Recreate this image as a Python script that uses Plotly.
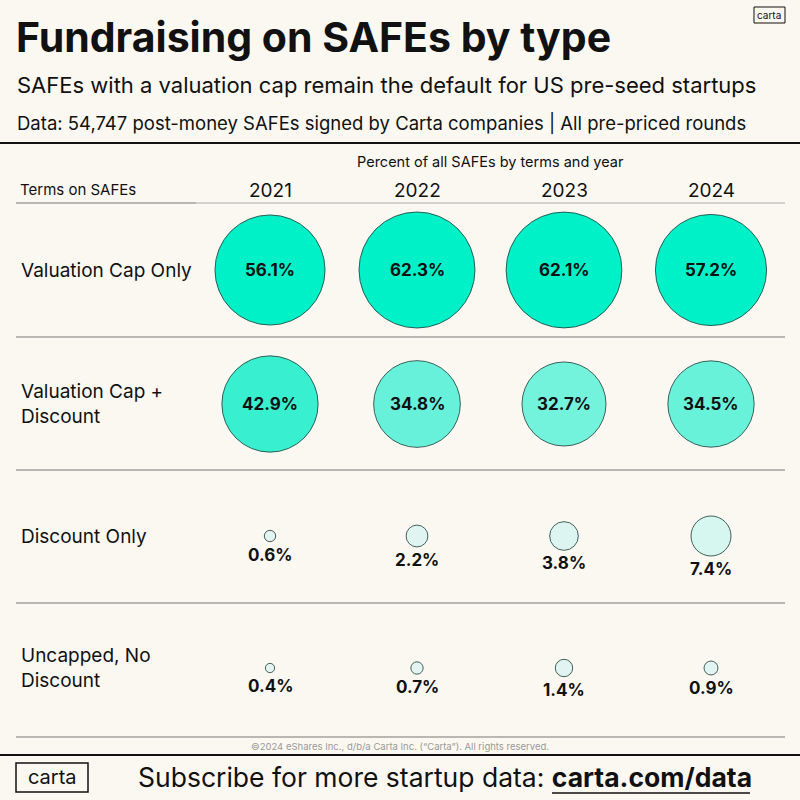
import numpy as np
import plotly.graph_objects as go

years = ["2021", "2022", "2023", "2024"]
terms = ["Valuation Cap Only", "Valuation Cap +<br>Discount", "Discount Only", "Uncapped, No<br>Discount"]
pct = [
    [56.1, 62.3, 62.1, 57.2],
    [42.9, 34.8, 32.7, 34.5],
    [0.6, 2.2, 3.8, 7.4],
    [0.4, 0.7, 1.4, 0.9],
]

FONT = "Inter"
BG = "#fbf8f1"
col_x = [270, 417, 564, 711]
row_y = [270, 404, 536, 668]
inside = [True, True, False, False]

fig = go.Figure()
for r, vals in enumerate(pct):
    v = np.array(vals)
    d = 14.7 * np.sqrt(v)
    fig.add_trace(go.Scatter(
        x=col_x, y=[row_y[r]] * 4, mode="markers",
        marker=dict(size=d, sizemode="diameter", color=v, opacity=1,
                    colorscale=[[0, "#e4f4f1"], [0.15, "#d4f6f0"], [0.6, "#72f2dc"],
                                [0.78, "#38efcf"], [1, "#00f0c8"]],
                    cmin=0, cmax=55, line=dict(color="#1b3b36", width=0.8)),
        hoverinfo="skip", showlegend=False))
    for i, val in enumerate(vals):
        y = row_y[r] if inside[r] else row_y[r] + d[i] / 2 + 13
        fig.add_annotation(x=col_x[i], y=y, text=f"<b>{val}%</b>", showarrow=False,
                           font=dict(family=FONT, size=17, color="#111"))
    fig.add_annotation(x=19, y=row_y[r], text=terms[r], showarrow=False,
                       xanchor="left", align="left", font=dict(family=FONT, size=19, color="#111"))

for i, yr in enumerate(years):
    fig.add_annotation(x=col_x[i], y=190, text=yr, showarrow=False,
                       font=dict(family=FONT, size=19, color="#111"))

texts = [
    (14, 37, "<b>Fundraising on SAFEs by type</b>", 41, "left"),
    (15, 85, "SAFEs with a valuation cap remain the default for US pre-seed startups", 22, "left"),
    (15, 123, "Data: 54,747 post-money SAFEs signed by Carta companies | All pre-priced rounds", 18.5, "left"),
    (490, 161, "Percent of all SAFEs by terms and year", 14.5, "center"),
    (18, 189, "Terms on SAFEs", 15, "left"),
    (400, 746, "©2024 eShares Inc., d/b/a Carta Inc. (“Carta”). All rights reserved.", 9.5, "center"),
    (136, 777, "Subscribe for more startup data: <b>carta.com/data</b>", 26.5, "left"),
    (52, 777, "carta", 20, "center"),
    (769, 15, "carta", 10, "center"),
]
for x, y, t, s, anc in texts:
    fig.add_annotation(x=x, y=y, text=t, showarrow=False, xanchor=anc,
                       font=dict(family=FONT, size=s, color="#999" if s < 10 else "#111"))

shapes = [
    dict(type="line", x0=0, x1=800, y0=143, y1=143, line=dict(color="#111", width=2)),
    dict(type="line", x0=16, x1=196, y0=203, y1=203, line=dict(color="#777", width=1.2)),
    dict(type="line", x0=196, x1=785, y0=203, y1=203, line=dict(color="#aaa", width=1)),
    dict(type="line", x0=0, x1=800, y0=755, y1=755, line=dict(color="#111", width=2)),
    dict(type="rect", x0=16, x1=88, y0=763, y1=792, line=dict(color="#111", width=1.5)),
    dict(type="rect", x0=754, x1=785, y0=7, y1=23, line=dict(color="#111", width=1)),
    dict(type="line", x0=552, x1=750, y0=793, y1=793, line=dict(color="#111", width=1.5)),
]
for y in [337, 470, 603, 737]:
    shapes.append(dict(type="line", x0=16, x1=785, y0=y, y1=y, line=dict(color="#777", width=1)))

fig.update_layout(
    width=800, height=800, margin=dict(l=0, r=0, t=0, b=0),
    paper_bgcolor=BG, plot_bgcolor=BG, shapes=shapes,
    xaxis=dict(range=[0, 800], visible=False, fixedrange=True),
    yaxis=dict(range=[800, 0], visible=False, fixedrange=True),
)
fig.write_html("out.html", config=dict(displayModeBar=False),
               post_script="document.body.style.margin='0';document.body.style.overflow='hidden';")
